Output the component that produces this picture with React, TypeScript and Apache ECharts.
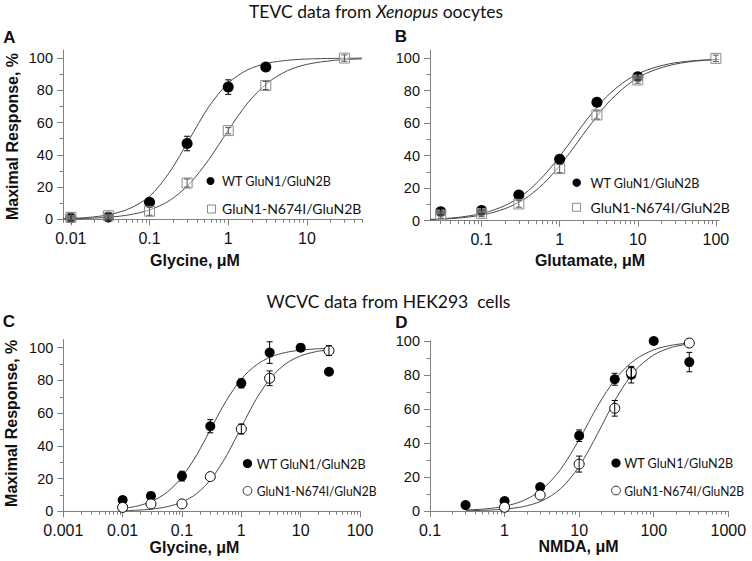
import React, { useEffect, useRef } from "react";
import * as echarts from "echarts";

// ---------- tick labels ----------
const xTicksA = [0.01, 0.1, 1, 10];
const xTicksB = [0.1, 1, 10, 100];
const xTicksC = [0.001, 0.01, 0.1, 1, 10, 100];
const xTicksD = [0.1, 1, 10, 100, 1000];
const yTicks = [0, 20, 40, 60, 80, 100];
const yMinorTicks = [10, 30, 50, 70, 90];

// ---------- text ----------
const legendWT = "WT GluN1/GluN2B";
const legendMut = "GluN1-N674I/GluN2B";
const yTitle = "Maximal Response, %";
const xTitleA = "Glycine, μM";
const xTitleB = "Glutamate, μM";
const xTitleC = "Glycine, μM";
const xTitleD = "NMDA, μM";

// ---------- Panel A (TEVC, glycine) ----------
const aWtConc = [0.01, 0.03, 0.1, 0.3, 1, 3];
const aWtResp = [1, 1.5, 10.5, 47, 82, 94.5];
const aWtErr = [2, 2, 1.5, 4.5, 4.5, 1.5];
const aMutConc = [0.01, 0.03, 0.1, 0.3, 1, 3, 30];
const aMutResp = [1.2, 2.2, 5, 22.5, 55, 83, 100];
const aMutErr = [2.5, 2, 2.5, 2.5, 2, 2.5, 2];
const aFitLog = [-2.1, -1.8, -1.5, -1.25, -1.0, -0.75, -0.5, -0.25, 0, 0.25, 0.5, 0.75, 1.0, 1.35, 1.7];
const aWtFit = [0.38, 1.07, 2.97, 6.76, 14.2, 28.9, 49.1, 69.6, 84.5, 92.8, 96.8, 98.6, 99.4, 99.8, 99.95];
const aMutFit = [0.23, 0.56, 1.36, 2.84, 5.82, 11.5, 21.6, 36.8, 55.2, 72.3, 84.6, 92.1, 96.1, 98.6, 99.5];

// ---------- Panel B (TEVC, glutamate) ----------
const bWtConc = [0.03, 0.1, 0.3, 1, 3, 10];
const bWtResp = [5.5, 6.2, 15.8, 37.7, 72.8, 88.5];
const bWtErr = [2, 2, 2, 2.5, 2, 2];
const bMutConc = [0.03, 0.1, 0.3, 1, 3, 10, 100];
const bMutResp = [3.5, 4.5, 10.3, 32, 65, 86.5, 99.8];
const bMutErr = [2, 2, 2, 2.5, 2.5, 2, 2];
const bFitLog = [-1.66, -1.4, -1.15, -0.9, -0.65, -0.4, -0.15, 0.1, 0.35, 0.6, 0.85, 1.1, 1.4, 1.7, 2.04];
const bWtFit = [0.8, 1.58, 3.02, 5.69, 10.5, 18.5, 30.6, 46.0, 62.3, 76.2, 86.1, 92.3, 96.4, 98.3, 99.3];
const bMutFit = [0.62, 1.23, 2.36, 4.48, 8.35, 15.0, 25.5, 39.9, 56.2, 71.4, 82.8, 90.4, 95.4, 97.9, 99.1];

// ---------- Panel C (WCVC, glycine) ----------
const cWtConc = [0.01, 0.03, 0.1, 0.3, 1, 3, 10, 30];
const cWtResp = [6.9, 9.4, 21.5, 52, 78.2, 97, 100, 85.3];
const cWtErr = [0, 0, 3, 4, 2.8, 6.6, 0, 0];
const cMutConc = [0.01, 0.03, 0.1, 0.3, 1, 3, 30];
const cMutResp = [2.4, 4.5, 4.5, 21.2, 50.3, 81.3, 98.2];
const cMutErr = [0, 0, 0, 0, 3, 4.5, 3];
const cFitLog = [-2, -1.75, -1.5, -1.25, -1, -0.75, -0.5, -0.25, 0, 0.25, 0.5, 0.75, 1, 1.25, 1.5];
const cWtFit = [1.65, 3.24, 6.25, 11.7, 21.0, 34.6, 51.4, 67.8, 80.8, 89.4, 94.4, 97.1, 98.5, 99.25, 99.6];
const cMutFit = [0.33, 0.68, 1.39, 2.82, 5.62, 10.9, 20.1, 34.0, 51.4, 68.5, 81.7, 90.2, 95.0, 97.5, 98.8];

// ---------- Panel D (WCVC, NMDA) ----------
const dWtConc = [0.3, 1, 3, 10, 30, 50, 100, 300];
const dWtResp = [3.5, 5.9, 14.1, 44.3, 77.5, 80.2, 100, 87.6];
const dWtErr = [0, 0, 0, 3.4, 3.5, 4.9, 0, 5.7];
const dMutConc = [1, 3, 10, 30, 50, 300];
const dMutResp = [2.2, 9.4, 27.6, 60.4, 81.5, 98.8];
const dMutErr = [0, 0, 4.7, 4.6, 3, 0];
const dFitLog = [-0.52, -0.25, 0, 0.25, 0.5, 0.75, 1, 1.25, 1.5, 1.75, 2, 2.25, 2.48];
const dWtFit = [0.54, 1.27, 2.8, 6.06, 12.6, 24.4, 42.0, 61.9, 78.4, 89.0, 94.8, 97.6, 98.8];
const dMutFit = [0.19, 0.47, 1.11, 2.59, 5.93, 13.0, 26.2, 45.7, 66.6, 82.6, 91.8, 96.4, 98.3];

const AX = "#808080";
const NUM_FONT = "'Liberation Sans', Arial, sans-serif";
const TXT_FONT = "Lato, 'Open Sans', sans-serif";

type Set = { conc: number[]; resp: number[]; err: number[] };
type Panel = {
  grid: { left: number; top: number; width: number; height: number };
  xMin: number;
  xMax: number;
  yMax: number;
  xTicks: number[];
  wt: Set;
  mut: Set;
  fitLog: number[];
  wtFit: number[];
  mutFit: number[];
  mutSymbol: "rect" | "circle";
  mutColor: string;
  mutErrColor: string;
  mutSize: number;
  wtSize: number;
};

const panels: Panel[] = [
  {
    grid: { left: 63, top: 50, width: 299, height: 169.3 },
    xMin: -2.1, xMax: 1.7, yMax: 105, xTicks: xTicksA,
    wt: { conc: aWtConc, resp: aWtResp, err: aWtErr },
    mut: { conc: aMutConc, resp: aMutResp, err: aMutErr },
    fitLog: aFitLog, wtFit: aWtFit, mutFit: aMutFit,
    mutSymbol: "rect", mutColor: "#8c8c8c", mutErrColor: "#555", mutSize: 10, wtSize: 11,
  },
  {
    grid: { left: 430, top: 49.9, width: 289, height: 170.8 },
    xMin: -1.66, xMax: 2.04, yMax: 105, xTicks: xTicksB,
    wt: { conc: bWtConc, resp: bWtResp, err: bWtErr },
    mut: { conc: bMutConc, resp: bMutResp, err: bMutErr },
    fitLog: bFitLog, wtFit: bWtFit, mutFit: bMutFit,
    mutSymbol: "rect", mutColor: "#8c8c8c", mutErrColor: "#555", mutSize: 10, wtSize: 11,
  },
  {
    grid: { left: 63.3, top: 339.5, width: 296.7, height: 171.8 },
    xMin: -3, xMax: 2, yMax: 105, xTicks: xTicksC,
    wt: { conc: cWtConc, resp: cWtResp, err: cWtErr },
    mut: { conc: cMutConc, resp: cMutResp, err: cMutErr },
    fitLog: cFitLog, wtFit: cWtFit, mutFit: cMutFit,
    mutSymbol: "circle", mutColor: "#000", mutErrColor: "#000", mutSize: 10, wtSize: 10,
  },
  {
    grid: { left: 430, top: 341, width: 298.3, height: 170 },
    xMin: -1, xMax: 3, yMax: 100, xTicks: xTicksD,
    wt: { conc: dWtConc, resp: dWtResp, err: dWtErr },
    mut: { conc: dMutConc, resp: dMutResp, err: dMutErr },
    fitLog: dFitLog, wtFit: dWtFit, mutFit: dMutFit,
    mutSymbol: "circle", mutColor: "#000", mutErrColor: "#000", mutSize: 10, wtSize: 10,
  },
];

function minorLogs(min: number, max: number): number[] {
  const out: number[] = [];
  for (let d = Math.floor(min); d <= Math.ceil(max); d++) {
    for (let k = 2; k <= 9; k++) {
      const v = d + Math.log10(k);
      if (v >= min - 1e-9 && v <= max + 1e-9) out.push(v);
    }
  }
  return out;
}

const fmtLog = (v: number) => String(Number(Math.pow(10, v).toPrecision(6)));

function errorSeries(s: Set, xi: number, color: string, z: number) {
  return {
    type: "custom",
    xAxisIndex: xi,
    yAxisIndex: xi,
    z,
    silent: true,
    encode: { x: 0, y: 1 },
    data: s.conc.map((c, i) => [Math.log10(c), s.resp[i], s.err[i]]),
    renderItem: (params: any, api: any) => {
      const x = api.value(0);
      const y = api.value(1);
      const e = api.value(2);
      if (!e) return null;
      const t = api.coord([x, y + e]);
      const b = api.coord([x, y - e]);
      const hw = 3;
      const st = { stroke: color, lineWidth: 1 };
      return {
        type: "group",
        children: [
          { type: "line", shape: { x1: t[0], y1: t[1], x2: b[0], y2: b[1] }, style: st },
          { type: "line", shape: { x1: t[0] - hw, y1: t[1], x2: t[0] + hw, y2: t[1] }, style: st },
          { type: "line", shape: { x1: b[0] - hw, y1: b[1], x2: b[0] + hw, y2: b[1] }, style: st },
        ],
      };
    },
  };
}

function buildOption() {
  const grid: any[] = [];
  const xAxis: any[] = [];
  const yAxis: any[] = [];
  const series: any[] = [];

  panels.forEach((p, i) => {
    grid.push({ ...p.grid });
    const major = p.xTicks.map((t) => Math.log10(t));
    xAxis.push({
      gridIndex: i, type: "value", min: p.xMin, max: p.xMax, position: "bottom",
      axisLine: { show: true, onZero: false, lineStyle: { color: AX, width: 1 } },
      axisTick: { show: true, customValues: major, length: 6, lineStyle: { color: AX } },
      axisLabel: {
        show: true, customValues: major, formatter: fmtLog,
        fontSize: 16, fontFamily: NUM_FONT, color: "#111", margin: 11,
      },
      splitLine: { show: false },
    });
    xAxis.push({
      gridIndex: i, type: "value", min: p.xMin, max: p.xMax, position: "bottom",
      axisLine: { show: false, onZero: false },
      axisTick: { show: true, customValues: minorLogs(p.xMin, p.xMax), length: 3.5, lineStyle: { color: AX } },
      axisLabel: { show: false },
      splitLine: { show: false },
    });
    yAxis.push({
      gridIndex: i, type: "value", min: 0, max: p.yMax, position: "left",
      axisLine: { show: true, onZero: false, lineStyle: { color: AX, width: 1 } },
      axisTick: { show: true, customValues: yTicks, length: 6, lineStyle: { color: AX } },
      axisLabel: {
        show: true, customValues: yTicks,
        fontSize: 14.5, fontFamily: NUM_FONT, color: "#111", margin: 10,
      },
      splitLine: { show: false },
    });
    yAxis.push({
      gridIndex: i, type: "value", min: 0, max: p.yMax, position: "left",
      axisLine: { show: false, onZero: false },
      axisTick: { show: true, customValues: yMinorTicks, length: 3.5, lineStyle: { color: AX } },
      axisLabel: { show: false },
      splitLine: { show: false },
    });

    const xi = i * 2;
    const lineBase = {
      type: "line", xAxisIndex: xi, yAxisIndex: xi, showSymbol: false, silent: true,
      smooth: 0.3, z: 2,
      lineStyle: { color: "#4a4a4a", width: 1 },
    };
    series.push({ ...lineBase, data: p.fitLog.map((l, k) => [l, p.wtFit[k]]) });
    series.push({ ...lineBase, data: p.fitLog.map((l, k) => [l, p.mutFit[k]]) });

    series.push({
      type: "scatter", xAxisIndex: xi, yAxisIndex: xi, z: 3, silent: true,
      symbol: "circle", symbolSize: p.wtSize,
      itemStyle: { color: "#000", opacity: 1 },
      data: p.wt.conc.map((c, k) => [Math.log10(c), p.wt.resp[k]]),
    });
    series.push({
      type: "scatter", xAxisIndex: xi, yAxisIndex: xi, z: 4, silent: true,
      symbol: p.mutSymbol, symbolSize: p.mutSize,
      itemStyle: {
        color: p.mutSymbol === "rect" ? "rgba(255,255,255,0.45)" : "#fff",
        borderColor: p.mutColor, borderWidth: 1, opacity: 1,
      },
      data: p.mut.conc.map((c, k) => [Math.log10(c), p.mut.resp[k]]),
    });
    series.push(errorSeries(p.wt, xi, "#000", 5));
    series.push(errorSeries(p.mut, xi, p.mutErrColor, 5));
  });

  const txt = (x: number, y: number, text: string, font: string, extra: any = {}) => ({
    type: "text", x, y, silent: true, ...extra,
    style: { text, font, fill: "#111", textAlign: "center", textVerticalAlign: "middle", ...(extra.style || {}) },
  });
  const leftTxt = (x: number, y: number, text: string, sx: number) => ({
    type: "text", x, y, scaleX: sx, silent: true,
    style: { text, font: `14px ${TXT_FONT}`, fill: "#111", textAlign: "left", textVerticalAlign: "middle" },
  });

  const graphic: any[] = [
    {
      type: "text", x: 376, y: 11.5, silent: true,
      style: {
        text: "{n|TEVC data from }{i|Xenopus}{n| oocytes}",
        textAlign: "center", textVerticalAlign: "middle",
        rich: {
          n: { fontFamily: TXT_FONT, fontSize: 17.5, fill: "#111", color: "#111" },
          i: { fontFamily: TXT_FONT, fontSize: 17.5, fontStyle: "italic", fill: "#111", color: "#111" },
        },
      },
    },
    txt(388.5, 301, "WCVC data from HEK293\u00a0\u00a0cells", `17.5px ${TXT_FONT}`),
    txt(9.5, 37, "A", `bold 17px ${NUM_FONT}`),
    txt(401, 36, "B", `bold 17px ${NUM_FONT}`),
    txt(9, 321, "C", `bold 17px ${NUM_FONT}`),
    txt(401.5, 322.5, "D", `bold 17px ${NUM_FONT}`),
    txt(195, 260, xTitleA, `bold 16px ${NUM_FONT}`),
    txt(590, 260, xTitleB, `bold 16px ${NUM_FONT}`),
    txt(194.5, 547.5, xTitleC, `bold 16px ${NUM_FONT}`),
    txt(578.5, 546, xTitleD, `bold 16px ${NUM_FONT}`),
    txt(12, 136.5, yTitle, `bold 16px ${NUM_FONT}`, { rotation: Math.PI / 2 }),
    txt(11, 423.3, yTitle, `bold 16px ${NUM_FONT}`, { rotation: Math.PI / 2 }),
    // legend A
    { type: "circle", silent: true, shape: { cx: 210.5, cy: 181, r: 4 }, style: { fill: "#000" } },
    leftTxt(222, 181, legendWT, 0.9),
    { type: "rect", silent: true, shape: { x: 207.5, y: 205, width: 8, height: 8 }, style: { fill: "#fff", stroke: "#8c8c8c", lineWidth: 1 } },
    leftTxt(222, 208.8, legendMut, 1),
    // legend B
    { type: "circle", silent: true, shape: { cx: 576.7, cy: 182.7, r: 4.2 }, style: { fill: "#000" } },
    leftTxt(590.5, 182.7, legendWT, 0.9),
    { type: "rect", silent: true, shape: { x: 572.5, y: 203.3, width: 8, height: 8 }, style: { fill: "#fff", stroke: "#8c8c8c", lineWidth: 1 } },
    leftTxt(590.5, 207.3, legendMut, 1),
    // legend C
    { type: "circle", silent: true, shape: { cx: 247.5, cy: 463.5, r: 4.6 }, style: { fill: "#000" } },
    leftTxt(256.7, 463.5, legendWT, 0.9),
    { type: "circle", silent: true, shape: { cx: 247.5, cy: 490.8, r: 4.4 }, style: { fill: "#fff", stroke: "#333", lineWidth: 1 } },
    leftTxt(256.7, 490.8, legendMut, 0.86),
    // legend D
    { type: "circle", silent: true, shape: { cx: 616, cy: 463, r: 4.6 }, style: { fill: "#000" } },
    leftTxt(624.3, 463, legendWT, 0.9),
    { type: "circle", silent: true, shape: { cx: 616, cy: 490.5, r: 4.4 }, style: { fill: "#fff", stroke: "#333", lineWidth: 1 } },
    leftTxt(624.3, 490.5, legendMut, 0.86),
  ];

  return {
    animation: false,
    backgroundColor: "#fff",
    grid,
    xAxis,
    yAxis,
    series,
    graphic,
  };
}

export default function App() {
  const ref = useRef<HTMLDivElement>(null);
  useEffect(() => {
    if (!ref.current) return;
    const chart = echarts.init(ref.current, undefined, { renderer: "svg" });
    chart.setOption(buildOption() as any);
    return () => chart.dispose();
  }, []);
  return (
    <div
      ref={ref}
      style={{ position: "absolute", left: 0, top: 0, width: 752, height: 561, background: "#fff" }}
    />
  );
}
